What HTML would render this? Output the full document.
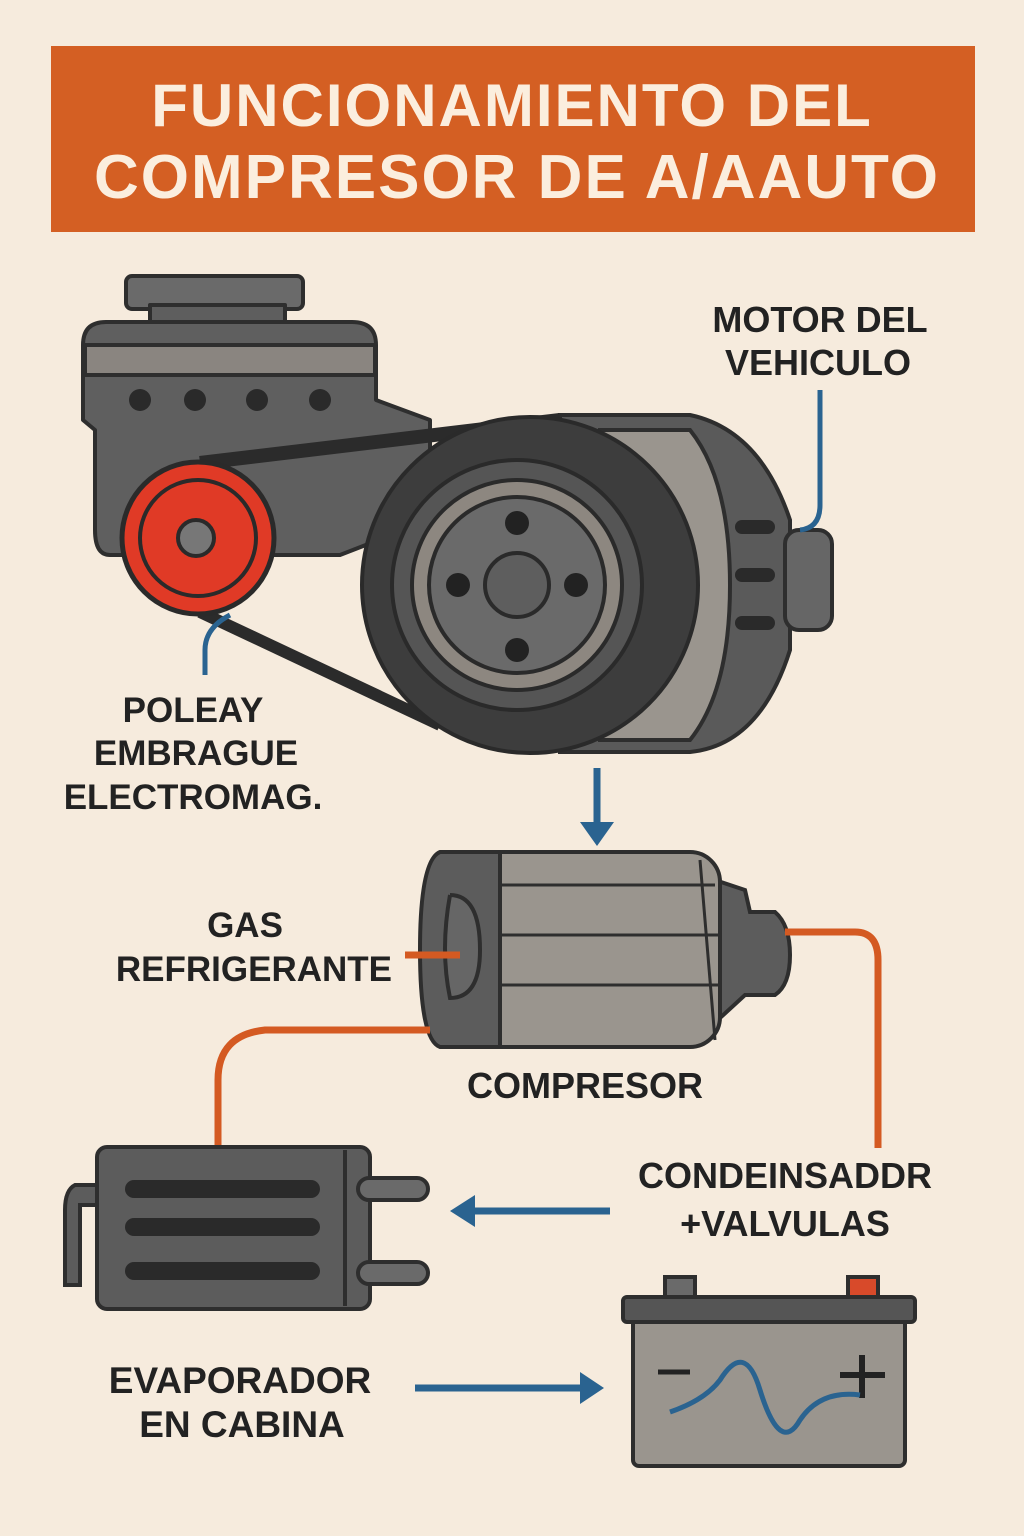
<!DOCTYPE html>
<html><head><meta charset="utf-8"><style>
html,body{margin:0;padding:0;background:#f6ebdd;}
svg{display:block}
text{font-family:"Liberation Sans","DejaVu Sans",sans-serif;font-weight:bold;}
</style></head><body>
<svg width="1024" height="1536" viewBox="0 0 1024 1536" xmlns="http://www.w3.org/2000/svg">
<rect width="1024" height="1536" fill="#f6ebdd"/>
<rect x="51" y="46" width="924" height="186" fill="#d45f23"/>
<text x="512" y="126" font-size="60" fill="#fbeede" text-anchor="middle" letter-spacing="2">FUNCIONAMIENTO DEL</text>
<text x="517" y="198" font-size="62" fill="#fbeede" text-anchor="middle" letter-spacing="2">COMPRESOR DE A/AAUTO</text>

<g stroke="#2e2e2e" stroke-width="4" stroke-linejoin="round">
<!-- engine block -->
<rect x="126" y="276" width="177" height="33" rx="6" fill="#6a6a6a"/>
<rect x="150" y="305" width="135" height="22" fill="#5e5e5e"/>
<path d="M83 345 Q83 322 106 322 L352 322 Q376 322 376 345 L376 400 L430 420 L430 520 L340 555 L110 555 Q95 555 95 530 L95 430 L83 420 Z" fill="#5f5f5f"/>
<rect x="85" y="345" width="290" height="30" fill="#8a8580"/>
</g>
<g fill="#2a2a2a"><circle cx="140" cy="400" r="11"/><circle cx="195" cy="400" r="11"/><circle cx="257" cy="400" r="11"/><circle cx="320" cy="400" r="11"/></g>
<!-- housing -->
<g stroke="#2e2e2e" stroke-width="4">
<path d="M560 415 L690 415 Q760 430 790 520 L790 650 Q760 745 690 752 L560 752 Z" fill="#5a5a5a"/>
<rect x="785" y="530" width="47" height="100" rx="14" fill="#666"/>
<path d="M600 430 L690 430 Q730 480 730 585 Q730 690 690 740 L600 740 Z" fill="#9a958e"/>
</g>
<g fill="#2a2a2a"><rect x="735" y="520" width="40" height="14" rx="7"/><rect x="735" y="568" width="40" height="14" rx="7"/><rect x="735" y="616" width="40" height="14" rx="7"/></g>
<!-- belts -->
<path d="M200 463 L560 420" stroke="#2b2b2b" stroke-width="14"/>
<path d="M200 612 L440 725" stroke="#2b2b2b" stroke-width="12"/>
<!-- big pulley -->
<circle cx="530" cy="585" r="168" fill="#3d3d3d" stroke="#2a2a2a" stroke-width="4"/>
<circle cx="517" cy="585" r="125" fill="#555" stroke="#2a2a2a" stroke-width="4"/>
<circle cx="517" cy="585" r="105" fill="#8d8780" stroke="#2a2a2a" stroke-width="4"/>
<circle cx="517" cy="585" r="88" fill="#6a6a6a" stroke="#2a2a2a" stroke-width="4"/>
<circle cx="517" cy="585" r="32" fill="#5e5e5e" stroke="#2a2a2a" stroke-width="4"/>
<g fill="#222"><circle cx="517" cy="523" r="12"/><circle cx="517" cy="650" r="12"/><circle cx="458" cy="585" r="12"/><circle cx="576" cy="585" r="12"/></g>
<!-- red pulley -->
<circle cx="198" cy="538" r="76" fill="#e03a26" stroke="#2a2a2a" stroke-width="5"/>
<circle cx="198" cy="538" r="58" fill="#e03a26" stroke="#2a2a2a" stroke-width="4"/>
<circle cx="196" cy="538" r="18" fill="#777" stroke="#2a2a2a" stroke-width="4"/>

<text x="820" y="332" font-size="36" fill="#222" text-anchor="middle">MOTOR DEL</text>
<text x="818" y="375" font-size="36" fill="#222" text-anchor="middle">VEHICULO</text>
<path d="M820 390 L820 505 Q820 528 800 530" fill="none" stroke="#2a6390" stroke-width="5"/>
<path d="M230 615 Q205 628 205 650 L205 675" fill="none" stroke="#2a6390" stroke-width="5"/>
<text x="193" y="722" font-size="35" fill="#222" text-anchor="middle">POLEAY</text>
<text x="196" y="765" font-size="35" fill="#222" text-anchor="middle">EMBRAGUE</text>
<text x="193" y="809" font-size="35" fill="#222" text-anchor="middle">ELECTROMAG.</text>

<path d="M597 768 L597 825" stroke="#2a6390" stroke-width="7"/>
<path d="M580 822 L614 822 L597 846 Z" fill="#2a6390"/>

<!-- compressor -->
<g stroke="#2e2e2e" stroke-width="4">
<path d="M700 875 L745 890 L750 912 L775 912 Q790 925 790 955 Q790 985 775 995 L745 995 L720 1018 L700 1020 Z" fill="#5c5c5c"/>
<rect x="440" y="852" width="280" height="195" rx="30" fill="#9a958e"/>
<path d="M440 852 Q420 860 420 950 Q420 1040 440 1047 L500 1047 L500 852 Z" fill="#5c5c5c"/>
<path d="M450 895 Q480 895 480 950 Q480 998 450 998 Q440 950 450 895" fill="#666"/>
</g>
<g stroke="#2e2e2e" stroke-width="3"><line x1="500" y1="885" x2="715" y2="885"/><line x1="500" y1="935" x2="718" y2="935"/><line x1="500" y1="985" x2="718" y2="985"/><line x1="700" y1="860" x2="715" y2="1040"/></g>
<text x="245" y="937" font-size="35" fill="#222" text-anchor="middle">GAS</text>
<text x="392" y="981" font-size="35" fill="#222" text-anchor="end">REFRIGERANTE</text>
<path d="M405 955 L460 955" stroke="#d45a22" stroke-width="7"/>
<text x="585" y="1098" font-size="36" fill="#222" text-anchor="middle">COMPRESOR</text>
<path d="M785 932 L855 932 Q878 932 878 960 L878 1148" fill="none" stroke="#d45a22" stroke-width="7"/>
<path d="M430 1030 L265 1030 Q218 1035 218 1080 L218 1148" fill="none" stroke="#d45a22" stroke-width="7"/>

<!-- evaporator -->
<g stroke="#2e2e2e" stroke-width="4">
<path d="M98 1185 L75 1185 Q65 1190 65 1210 L65 1285 L80 1285 L80 1205 L98 1205 Z" fill="#5c5c5c"/>
<rect x="97" y="1147" width="273" height="162" rx="10" fill="#5c5c5c"/>
<line x1="345" y1="1150" x2="345" y2="1306"/>
<rect x="358" y="1178" width="70" height="22" rx="11" fill="#6a6a6a"/>
<rect x="358" y="1262" width="70" height="22" rx="11" fill="#6a6a6a"/>
</g>
<g fill="#2a2a2a"><rect x="125" y="1180" width="195" height="18" rx="9"/><rect x="125" y="1218" width="195" height="18" rx="9"/><rect x="125" y="1262" width="195" height="18" rx="9"/></g>
<text x="785" y="1188" font-size="36" fill="#222" text-anchor="middle">CONDEINSADDR</text>
<text x="785" y="1236" font-size="36" fill="#222" text-anchor="middle">+VALVULAS</text>
<path d="M610 1211 L470 1211" stroke="#2a6390" stroke-width="7"/>
<path d="M475 1195 L475 1227 L450 1211 Z" fill="#2a6390"/>
<text x="240" y="1393" font-size="37" fill="#222" text-anchor="middle">EVAPORADOR</text>
<text x="242" y="1437" font-size="37" fill="#222" text-anchor="middle">EN CABINA</text>
<path d="M415 1388 L585 1388" stroke="#2a6390" stroke-width="7"/>
<path d="M580 1372 L580 1404 L604 1388 Z" fill="#2a6390"/>

<!-- battery -->
<g stroke="#2e2e2e" stroke-width="4">
<rect x="665" y="1277" width="30" height="22" fill="#6a6a6a"/>
<rect x="848" y="1277" width="30" height="22" fill="#d84a2a"/>
<rect x="633" y="1318" width="272" height="148" rx="6" fill="#9a958e"/>
<rect x="623" y="1297" width="292" height="25" rx="4" fill="#555"/>
</g>
<path d="M658 1372 L690 1372" stroke="#222" stroke-width="5"/>
<path d="M840 1375 L885 1375 M862 1355 L862 1398" stroke="#222" stroke-width="6"/>
<path d="M670 1412 Q705 1400 720 1380 Q745 1340 760 1390 Q780 1455 800 1420 Q820 1390 860 1395" fill="none" stroke="#2a6390" stroke-width="5"/>
</svg>
</body></html>
